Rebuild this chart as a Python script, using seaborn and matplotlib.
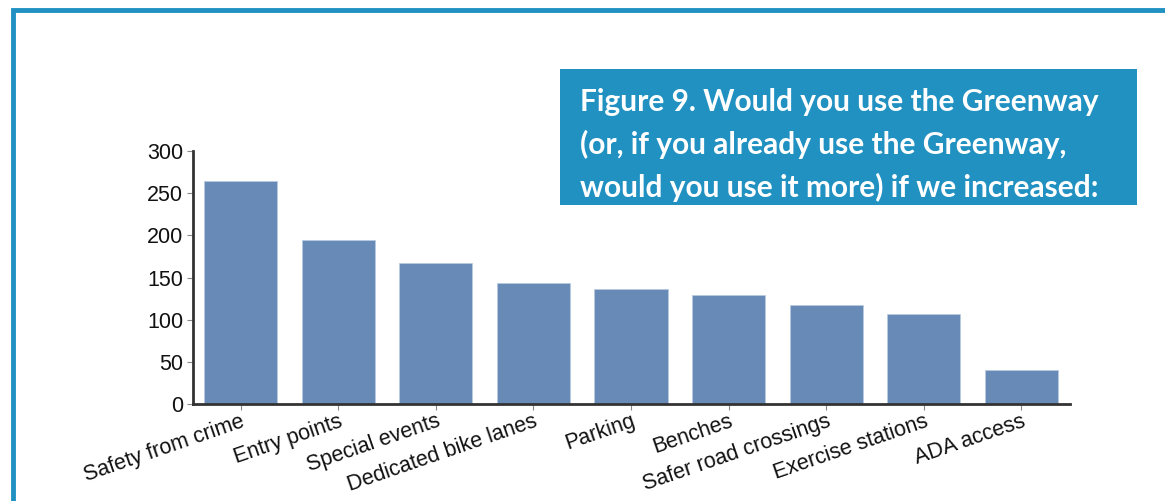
import matplotlib
matplotlib.use("Agg")
import matplotlib.pyplot as plt
import matplotlib.patches as mpatches
import pandas as pd
import seaborn as sns

categories = ["Safety from crime", "Entry points", "Special events", "Dedicated bike lanes",
              "Parking", "Benches", "Safer road crossings", "Exercise stations", "ADA access"]
counts = [265, 194, 167, 144, 136, 129, 117, 107, 40]
y_ticks = [0, 50, 100, 150, 200, 250, 300]
title_lines = ["Figure 9. Would you use the Greenway",
               "(or, if you already use the Greenway,",
               "would you use it more) if we increased:"]

BAR = "#678bb6"
FRAME = "#2191c2"

sns.set_theme(style="white")
plt.rcParams["font.family"] = ["Liberation Sans", "DejaVu Sans"]

df = pd.DataFrame({"item": categories, "count": counts})

W, H = 1165, 501
fig = plt.figure(figsize=(W / 100, H / 100), dpi=100)
ax = fig.add_axes([193 / W, 1 - 404 / H, (1070 - 193) / W, (404 - 151) / H])

sns.barplot(data=df, x="item", y="count", color=BAR, width=0.75, saturation=1,
            edgecolor="#b9cbe0", linewidth=0.6, ax=ax)
ax.set_xlim(-0.49, 8.5)
ax.set_ylim(0, 300)
ax.set_yticks(y_ticks)
ax.set_xlabel("")
ax.set_ylabel("")
for s in ["top", "right"]:
    ax.spines[s].set_visible(False)
for s in ["left", "bottom"]:
    ax.spines[s].set_color("#333333")
    ax.spines[s].set_linewidth(2)
ax.tick_params(axis="both", which="major", length=4, width=0.8, color="#888888",
               labelcolor="#111111", left=True, bottom=True)
ax.tick_params(axis="y", labelsize=15.5, pad=3)
ax.tick_params(axis="x", labelsize=15.5, pad=1)
plt.setp(ax.get_xticklabels(), rotation=19, ha="right", rotation_mode="anchor")

# outer blue frame (continues off the right and bottom edges)
frame = mpatches.Rectangle((13 / W, -0.1), 1.2, 1 - 10 / H + 0.1, transform=fig.transFigure,
                           fill=False, edgecolor=FRAME, linewidth=3.5)
fig.patches.append(frame)

# title box; last line is cut off by the box edge as in the original
bx0, bx1, by0, by1 = 560, 1137, 69, 205
box = mpatches.Rectangle((bx0 / W, 1 - by1 / H), (bx1 - bx0) / W, (by1 - by0) / H,
                         transform=fig.transFigure, facecolor=FRAME, edgecolor="none")
fig.patches.append(box)
for i, line in enumerate(title_lines):
    t = fig.text(580 / W, 1 - (111 + 43 * i) / H, line, color="white", fontsize=21.5,
                 fontweight="bold", family=["Lato", "DejaVu Sans"], va="baseline", ha="left")
    t.set_clip_path(box)

fig.savefig("out.png", dpi=100)
